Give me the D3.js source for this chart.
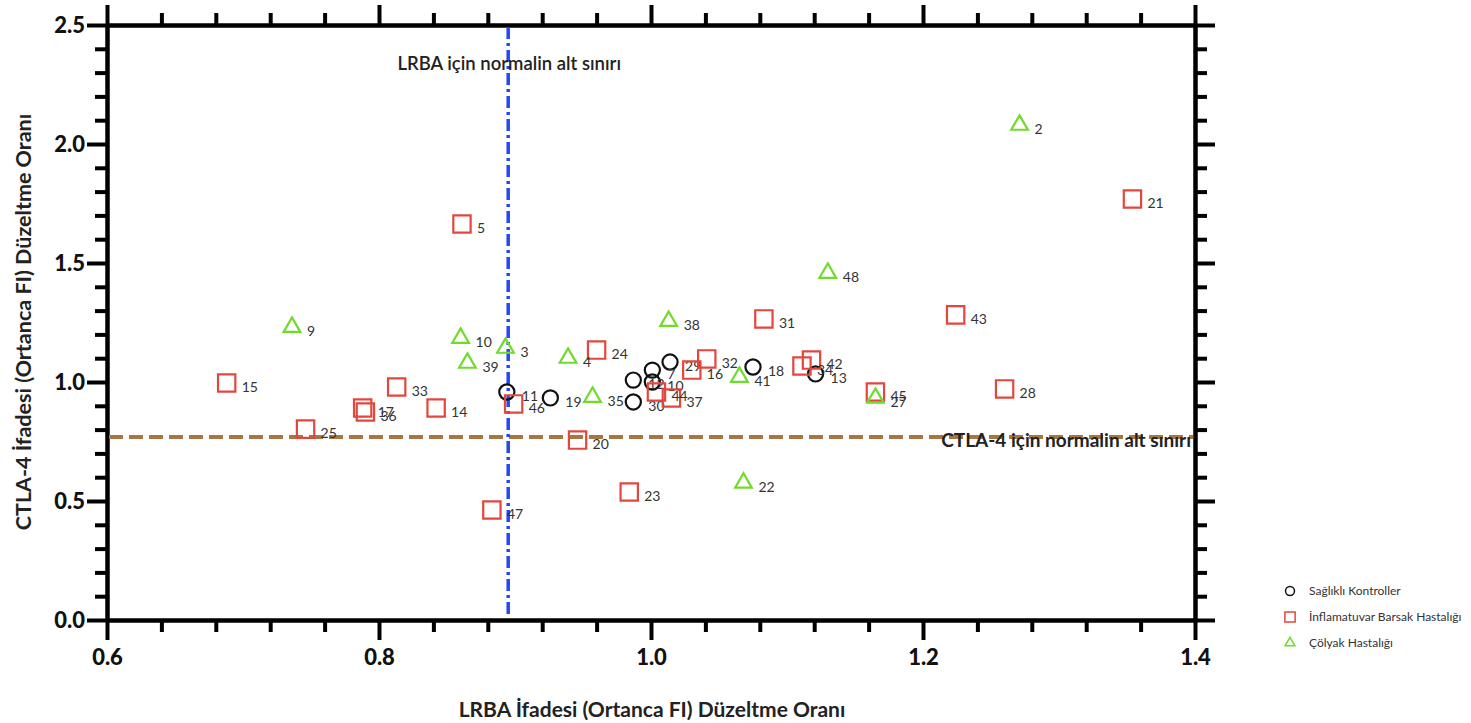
<!DOCTYPE html>
<html>
<head>
  <meta charset="UTF-8">
  <style>
    body { margin: 0; background: #fff; font-family: Lato, "Open Sans", sans-serif; }
    .tick text { font-family: Lato, sans-serif; font-weight: 900; font-size: 22px; fill: #111; }
    .ptlabel { font-size: 14px; fill: #333; }
    .legend text { font-size: 12px; fill: #333; }
  </style>
</head>
<body>
  <svg width="1471" height="723"></svg>
  <script src="https://d3js.org/d3.v7.min.js"></script>
  <script>
    // Sağlıklı Kontroller (circles)
    let healthyIds = ["11", "19", "12", "10", "7", "29", "30", "18", "13"];
    let healthyX   = [0.894, 0.926, 0.987, 1.001, 1.001, 1.014, 0.987, 1.075, 1.121];
    let healthyY   = [0.958, 0.933, 1.008, 1.000, 1.050, 1.084, 0.916, 1.063, 1.034];

    // İnflamatuvar Barsak Hastalığı (squares)
    let ibdIds = ["5", "15", "33", "17", "36", "14", "25", "46", "24", "20", "23", "47",
                  "44", "37", "16", "32", "31", "43", "21", "34", "42", "45", "28"];
    let ibdX   = [0.861, 0.688, 0.813, 0.788, 0.790, 0.842, 0.746, 0.899, 0.960, 0.946, 0.984, 0.883,
                  1.004, 1.015, 1.030, 1.041, 1.083, 1.224, 1.354, 1.111, 1.118, 1.165, 1.260];
    let ibdY   = [1.664, 0.996, 0.979, 0.891, 0.874, 0.891, 0.802, 0.908, 1.134, 0.756, 0.538, 0.462,
                  0.958, 0.933, 1.050, 1.097, 1.265, 1.282, 1.769, 1.067, 1.092, 0.958, 0.971];

    // Çölyak Hastalığı (triangles)
    let celiacIds = ["2", "48", "9", "10", "3", "39", "4", "38", "35", "41", "27", "22"];
    let celiacX   = [1.271, 1.130, 0.736, 0.860, 0.893, 0.865, 0.939, 1.013, 0.957, 1.065, 1.165, 1.068];
    let celiacY   = [2.080, 1.458, 1.231, 1.185, 1.143, 1.080, 1.101, 1.256, 0.937, 1.021, 0.933, 0.576];

    let xMajor = [0.6, 0.8, 1.0, 1.2, 1.4];
    let yMajor = [0.0, 0.5, 1.0, 1.5, 2.0, 2.5];
    let lrbaLimit = 0.895;
    let ctlaLimit = 0.769;

    let svg = d3.select("svg");
    let mLeft = 107, mRight = 1195, mTop = 25, mBottom = 620;

    let x = d3.scaleLinear().domain([0.6, 1.4]).range([mLeft, mRight]);
    let y = d3.scaleLinear().domain([0, 2.5]).range([mBottom, mTop]);

    let xMinor = d3.range(0, 21).map(i => 0.6 + i * 0.04).filter(v => !xMajor.some(m => Math.abs(m - v) < 1e-6));
    let yMinor = d3.range(0, 26).map(i => i * 0.1).filter(v => !yMajor.some(m => Math.abs(m - v) < 1e-6));

    function styleAxis(g) {
      g.select(".domain").attr("stroke", "#000").attr("stroke-width", 4);
      g.selectAll(".tick line").attr("stroke", "#000").attr("stroke-width", 4);
    }

    // bottom
    svg.append("g").attr("transform", `translate(0,${mBottom})`)
      .call(d3.axisBottom(x).tickValues(xMinor).tickSize(12).tickSizeOuter(0).tickFormat(""))
      .call(styleAxis);
    svg.append("g").attr("transform", `translate(0,${mBottom})`)
      .call(d3.axisBottom(x).tickValues(xMajor).tickSize(20).tickSizeOuter(0).tickPadding(9).tickFormat(d3.format(".1f")))
      .call(styleAxis);
    // top
    svg.append("g").attr("transform", `translate(0,${mTop})`)
      .call(d3.axisTop(x).tickValues(xMinor).tickSize(12).tickSizeOuter(0).tickFormat(""))
      .call(styleAxis);
    svg.append("g").attr("transform", `translate(0,${mTop})`)
      .call(d3.axisTop(x).tickValues(xMajor).tickSize(20).tickSizeOuter(0).tickFormat(""))
      .call(styleAxis);
    // left
    svg.append("g").attr("transform", `translate(${mLeft},0)`)
      .call(d3.axisLeft(y).tickValues(yMinor).tickSize(12).tickSizeOuter(0).tickFormat(""))
      .call(styleAxis);
    svg.append("g").attr("transform", `translate(${mLeft},0)`)
      .call(d3.axisLeft(y).tickValues(yMajor).tickSize(20).tickSizeOuter(0).tickPadding(2).tickFormat(d3.format(".1f")))
      .call(styleAxis);
    // right
    svg.append("g").attr("transform", `translate(${mRight},0)`)
      .call(d3.axisRight(y).tickValues(yMinor).tickSize(12).tickSizeOuter(0).tickFormat(""))
      .call(styleAxis);
    svg.append("g").attr("transform", `translate(${mRight},0)`)
      .call(d3.axisRight(y).tickValues(yMajor).tickSize(20).tickSizeOuter(0).tickFormat(""))
      .call(styleAxis);

    // reference lines
    svg.append("line")
      .attr("x1", x(0.6) + 2).attr("x2", x(1.4) - 2)
      .attr("y1", y(ctlaLimit)).attr("y2", y(ctlaLimit))
      .attr("stroke", "#a8773f").attr("stroke-width", 4)
      .attr("stroke-dasharray", "14,6");
    svg.append("line")
      .attr("x1", x(lrbaLimit)).attr("x2", x(lrbaLimit))
      .attr("y1", y(2.5) + 2).attr("y2", y(0) - 2)
      .attr("stroke", "#2348f5").attr("stroke-width", 3.5)
      .attr("stroke-dasharray", "12,4,3,4");

    svg.append("text")
      .attr("x", x(lrbaLimit) + 1).attr("y", 70)
      .attr("text-anchor", "middle")
      .style("font-size", "18.5px").style("font-weight", 600).style("fill", "#222")
      .text("LRBA için normalin alt sınırı");
    svg.append("text")
      .attr("x", mRight - 4).attr("y", y(ctlaLimit) + 10)
      .attr("text-anchor", "end")
      .style("font-size", "19px").style("font-weight", 700).style("fill", "#222")
      .text("CTLA-4 için normalin alt sınırı");

    // axis titles
    svg.append("text")
      .attr("x", 652).attr("y", 717)
      .attr("text-anchor", "middle")
      .style("font-size", "21px").style("font-weight", 700).style("fill", "#222")
      .text("LRBA İfadesi (Ortanca FI) Düzeltme Oranı");
    svg.append("text")
      .attr("transform", "translate(31,322) rotate(-90)")
      .attr("text-anchor", "middle")
      .style("font-size", "21.5px").style("font-weight", 700).style("fill", "#222")
      .text("CTLA-4 İfadesi (Ortanca FI) Düzeltme Oranı");

    // points
    let groups = [
      { ids: healthyIds, xs: healthyX, ys: healthyY, type: d3.symbolCircle, size: 180, color: "#111" },
      { ids: ibdIds, xs: ibdX, ys: ibdY, type: d3.symbolSquare, size: 300, color: "#e3463c" },
      { ids: celiacIds, xs: celiacX, ys: celiacY, type: d3.symbolTriangle, size: 120, color: "#6fdc2c" }
    ];

    let pts = svg.append("g");
    groups.forEach(gr => {
      let data = gr.ids.map((id, i) => ({ id: id, x: gr.xs[i], y: gr.ys[i] }));
      pts.selectAll(null).data(data).enter().append("path")
        .attr("transform", d => `translate(${x(d.x)},${y(d.y)})`)
        .attr("d", d3.symbol().type(gr.type).size(gr.size))
        .attr("fill", "none")
        .attr("stroke", gr.color)
        .attr("stroke-width", 2.2);
      pts.selectAll(null).data(data).enter().append("text")
        .attr("class", "ptlabel")
        .attr("x", d => x(d.x) + 15)
        .attr("y", d => y(d.y) + 9)
        .text(d => d.id);
    });

    // legend
    let legendNames = ["Sağlıklı Kontroller", "İnflamatuvar Barsak Hastalığı", "Çölyak Hastalığı"];
    let legend = svg.append("g").attr("class", "legend");
    legendNames.forEach((name, i) => {
      let gr = groups[i];
      let ly = 591 + i * 26;
      legend.append("path")
        .attr("transform", `translate(1290,${ly})`)
        .attr("d", d3.symbol().type(gr.type).size(gr.size * 0.35))
        .attr("fill", "none")
        .attr("stroke", gr.color)
        .attr("stroke-width", 1.5);
      legend.append("text")
        .attr("x", 1309).attr("y", ly + 4)
        .text(name);
    });
  </script>
</body>
</html>
